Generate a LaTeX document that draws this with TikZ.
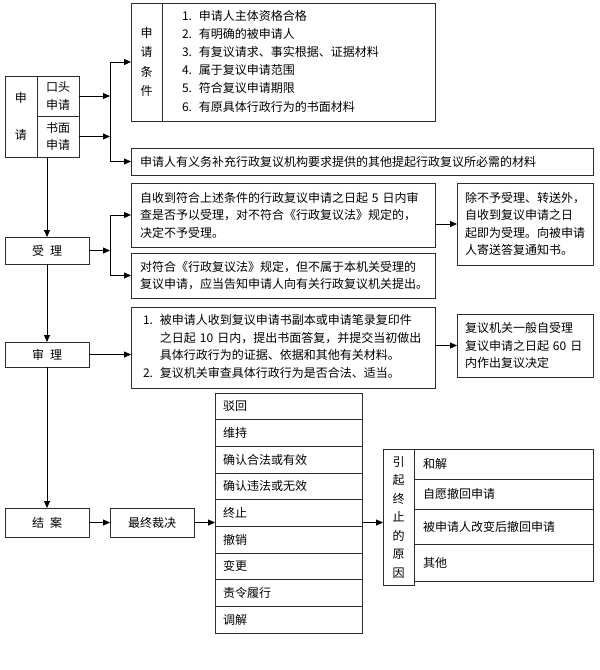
\documentclass[tikz,border=0pt]{standalone}
\usepackage{fontspec}
\setmainfont{Noto Sans CJK SC}
\usepackage{tikz}
\usetikzlibrary{arrows.meta,positioning}
\definecolor{edge}{RGB}{45,45,45}

\begin{document}
\begin{tikzpicture}[x=1pt, y=-1pt, font=\fontsize{12}{17.5}\selectfont,
  >={Triangle[length=7pt,width=6pt]}, line width=0.8pt,
  box/.style={rectangle, draw=edge, line width=0.8pt, inner sep=0pt, outer sep=0pt,
              anchor=north west, align=center},
  txt/.style={box, align=left, inner xsep=9pt},
  stage/.style={box, minimum width=84pt},
  vlab/.style={box, font=\fontsize{12}{19.5}\selectfont},
  row/.style={box, align=left, inner xsep=8pt, text width=131pt,
              minimum width=147pt, minimum height=26.67pt},
  why/.style={box, align=left, inner xsep=9pt, text width=161pt, minimum width=179pt}]
  \useasboundingbox (0,0) rectangle (600,670);

  % application
  \node[box, minimum width=32pt, minimum height=81pt] (appl) at (5,76) {申\\[20pt]请};
  \node[box, minimum width=42pt, minimum height=40pt] (appa) at (37,76) {口头\\申请};
  \node[box, minimum width=42pt, minimum height=41pt] (appb) at (37,116) {书面\\申请};
  \node[vlab, minimum width=31pt, minimum height=118pt] (condlab) at (131,3) {申\\请\\条\\件};
  \node[box, align=left, inner xsep=20pt, text width=233pt, minimum width=273pt,
        minimum height=118pt, font=\fontsize{12}{18.2}\selectfont] (condlist) at (162,3)
    {\begin{tabular}{@{}l@{\hspace{7pt}}l@{}}
      1. & 申请人主体资格合格\\
      2. & 有明确的被申请人\\
      3. & 有复议请求、事实根据、证据材料\\
      4. & 属于复议申请范围\\
      5. & 符合复议申请期限\\
      6. & 有原具体行政行为的书面材料
     \end{tabular}};
  \node[txt, text width=444pt, minimum width=462pt, minimum height=27pt] (extra) at (131,148)
    {申请人有义务补充行政复议机构要求提供的其他提起行政复议所必需的材料};

  % acceptance
  \node[stage, minimum height=27pt] (accept) at (5,237) {受\hspace{6pt}理};
  \node[txt, text width=286pt, minimum width=304pt, minimum height=64pt] (acc1) at (131,183)
    {自收到符合上述条件的行政复议申请之日起 5 日内审\\
     查是否予以受理，对不符合《行政复议法》规定的，\\
     决定不予受理。};
  \node[txt, text width=286pt, minimum width=304pt, minimum height=45pt] (acc2) at (131,253)
    {对符合《行政复议法》规定，但不属于本机关受理的\\
     复议申请，应当告知申请人向有关行政复议机关提出。};
  \node[txt, inner xsep=8pt, text width=120pt, minimum width=136pt, minimum height=82pt] (notice) at (457,183)
    {除不予受理、转送外，\\
     自收到复议申请之日\\
     起即为受理。向被申请\\
     人寄送答复通知书。};

  % review
  \node[stage, minimum height=25pt] (review) at (5,342) {审\hspace{6pt}理};
  \node[box, align=left, inner xsep=12pt, text width=280pt, minimum width=304pt,
        minimum height=81pt] (rev1) at (131,307)
    {\begin{tabular}{@{}l@{\hspace{7pt}}l@{}}
      1. & 被申请人收到复议申请书副本或申请笔录复印件\\
         & 之日起 10 日内，提出书面答复，并提交当初做出\\
         & 具体行政行为的证据、依据和其他有关材料。\\
      2. & 复议机关审查具体行政行为是否合法、适当。
     \end{tabular}};
  \node[txt, inner xsep=8pt, text width=120pt, minimum width=136pt, minimum height=63pt] (limit) at (457,314)
    {复议机关一般自受理\\
     复议申请之日起 60 日\\
     内作出复议决定};

  % closing
  \node[stage, minimum height=29pt] (close) at (5,508) {结\hspace{6pt}案};
  \node[stage, minimum height=29pt] (final) at (110,508) {最终裁决};
  \node[row] (res1) at (215,393) {驳回};
  \node[row, below=0pt of res1] (res2) {维持};
  \node[row, below=0pt of res2] (res3) {确认合法或有效};
  \node[row, below=0pt of res3] (res4) {确认违法或无效};
  \node[row, below=0pt of res4] (res5) {终止};
  \node[row, below=0pt of res5] (res6) {撤销};
  \node[row, below=0pt of res6] (res7) {变更};
  \node[row, below=0pt of res7] (res8) {责令履行};
  \node[row, below=0pt of res8] (res9) {调解};
  \node[vlab, minimum width=31pt, minimum height=136pt,
        font=\fontsize{12}{18.5}\selectfont] (whylab) at (383,449) {引\\起\\终\\止\\的\\原\\因};
  \node[why, minimum height=30pt] (why1) at (414,449) {和解};
  \node[why, minimum height=30pt, below=0pt of why1] (why2) {自愿撤回申请};
  \node[why, minimum height=35pt, below=0pt of why2] (why3) {被申请人改变后撤回申请};
  \node[why, minimum height=37pt, below=0pt of why3] (why4) {其他};

  % connectors
  \coordinate (j1) at (110,0);
  \coordinate (j2) at (110,0);
  \draw[->] (appa.east) -- (appa.east -| j1);
  \draw[->] (appb.east) -- (appb.east -| j1);
  \draw (j1 |- condlab.west) -- (j1 |- extra.west);
  \draw[->] (j1 |- condlab.west) -- (condlab.west);
  \draw[->] (j1 |- extra.west) -- (extra.west);
  \draw[->] (accept |- appb.south) -- (accept.north);
  \draw[->] (accept.east) -- (accept.east -| j2);
  \draw (j2 |- acc1.west) -- (j2 |- acc2.west);
  \draw[->] (j2 |- acc1.west) -- (acc1.west);
  \draw[->] (j2 |- acc2.west) -- (acc2.west);
  \draw[->] (acc1.east |- notice.west) -- (notice.west);
  \draw[->] (accept) -- (review);
  \draw[->] (review.east) -- (review.east -| rev1.west);
  \draw[->] (rev1.east |- limit.west) -- (limit.west);
  \draw[->] (review) -- (close);
  \draw[->] (close) -- (final);
  \draw[->] (final) -- (final -| res1.west);
  \draw[->] (final -| res1.east) -- (final -| whylab.west);
\end{tikzpicture}
\end{document}
